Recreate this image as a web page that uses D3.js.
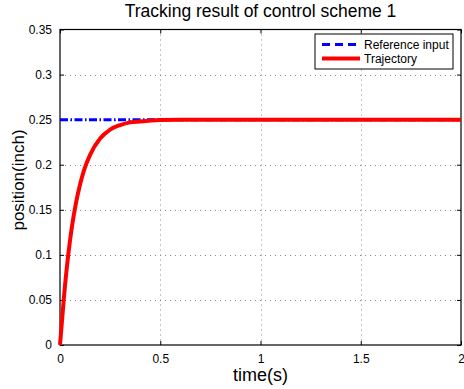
<!DOCTYPE html>
<html>
<head>
<meta charset="utf-8">
<script src="https://cdn.jsdelivr.net/npm/d3@7"></script>
<style>
  body { margin: 0; background: #fff; }
  text { font-family: "Liberation Sans", Arial, sans-serif; fill: #000; }
</style>
</head>
<body>
<script>
var width = 464,
    height = 389,
    margin = {top: 29.5, right: 3, bottom: 44, left: 60};

// data
var times = [0, 0.02, 0.04, 0.06, 0.08, 0.1, 0.12, 0.15, 0.2, 0.25, 0.3, 0.35, 0.4, 0.5, 0.6, 0.8, 1.0, 1.5, 2.0];
var trajectory = [0, 0.054, 0.098, 0.132, 0.158, 0.178, 0.194, 0.211, 0.229, 0.239, 0.244, 0.247, 0.248, 0.2495, 0.25, 0.25, 0.25, 0.25, 0.25];
var refTimes = [0, 2];
var reference = [0.25, 0.25];
var xTicks = [0, 0.5, 1, 1.5, 2];
var yTicks = [0, 0.05, 0.1, 0.15, 0.2, 0.25, 0.3, 0.35];
var legendLabels = ["Reference input", "Trajectory"];

var x = d3.scaleLinear().domain([0, 2]).range([margin.left, width - margin.right]);
var y = d3.scaleLinear().domain([0, 0.35]).range([height - margin.bottom, margin.top]);

var svg = d3.select("body").append("svg")
    .attr("width", width)
    .attr("height", height);

// grid
svg.append("g").selectAll("line")
    .data(xTicks.slice(1, -1))
    .enter().append("line")
    .attr("x1", function(d) { return Math.round(x(d)) + 0.5; })
    .attr("x2", function(d) { return Math.round(x(d)) + 0.5; })
    .attr("y1", y(0.35)).attr("y2", y(0))
    .style("stroke", "#888").style("stroke-dasharray", "1,4");

svg.append("g").selectAll("line")
    .data(yTicks.slice(1, -1))
    .enter().append("line")
    .attr("y1", function(d) { return Math.round(y(d)) + 0.5; })
    .attr("y2", function(d) { return Math.round(y(d)) + 0.5; })
    .attr("x1", x(0)).attr("x2", x(2))
    .style("stroke", "#888").style("stroke-dasharray", "1,4");

// axes
var xAxis = d3.axisBottom(x).tickValues(xTicks).tickSizeInner(-4).tickSizeOuter(0).tickPadding(9)
    .tickFormat(d3.format("~g"));
var yAxis = d3.axisLeft(y).tickValues(yTicks).tickSizeInner(-4).tickSizeOuter(0).tickPadding(8)
    .tickFormat(d3.format("~g"));

function styleAxis(g) {
  g.select(".domain").remove();
  g.selectAll("line").style("stroke", "#000");
  g.selectAll("text").style("font-size", "12px").style("font-family", "Liberation Sans, Arial, sans-serif");
}

svg.append("g").attr("transform", "translate(0," + y(0) + ")").call(xAxis).call(styleAxis);
svg.append("g").attr("transform", "translate(" + x(0) + ",0)").call(yAxis).call(styleAxis);
svg.append("g").attr("transform", "translate(0," + y(0.35) + ")")
    .call(d3.axisTop(x).tickValues(xTicks).tickSizeInner(-4).tickSizeOuter(0).tickFormat(""))
    .call(styleAxis);
svg.append("g").attr("transform", "translate(" + x(2) + ",0)")
    .call(d3.axisRight(y).tickValues(yTicks).tickSizeInner(-4).tickSizeOuter(0).tickFormat(""))
    .call(styleAxis);

// box
svg.append("rect")
    .attr("x", x(0)).attr("y", y(0.35))
    .attr("width", x(2) - x(0)).attr("height", y(0) - y(0.35))
    .style("fill", "none").style("stroke", "#000").style("stroke-width", 1.2);

// lines
var refLine = d3.line()
    .x(function(d, i) { return x(refTimes[i]); })
    .y(function(d) { return y(d); });

var trajLine = d3.line()
    .curve(d3.curveMonotoneX)
    .x(function(d, i) { return x(times[i]); })
    .y(function(d) { return y(d); });

svg.append("path")
    .datum(reference)
    .attr("d", refLine)
    .style("fill", "none").style("stroke", "#0000ff")
    .style("stroke-width", 3).style("stroke-dasharray", "8,2.5,1.5,2.5");

svg.append("path")
    .datum(trajectory)
    .attr("d", trajLine)
    .style("fill", "none").style("stroke", "#ff0000")
    .style("stroke-width", 4).style("stroke-linejoin", "round");

// legend
var legend = svg.append("g").attr("transform", "translate(315,34)");
legend.append("rect")
    .attr("width", 138).attr("height", 35)
    .style("fill", "#fff").style("stroke", "#000").style("stroke-width", 1);

legend.selectAll(".item")
    .data(legendLabels)
    .enter().append("g")
    .attr("class", "item")
    .each(function(d, i) {
      var g = d3.select(this);
      var yy = 10.5 + i * 14;
      g.append("line")
          .attr("x1", 7).attr("x2", 45).attr("y1", yy).attr("y2", yy)
          .style("stroke", i === 0 ? "#0000ff" : "#ff0000")
          .style("stroke-width", i === 0 ? 3 : 4)
          .style("stroke-dasharray", i === 0 ? "8,5" : null);
      g.append("text")
          .attr("x", 49).attr("y", yy + 4.5)
          .style("font-size", "12px")
          .text(d);
    });

// title and labels
svg.append("text")
    .attr("x", (x(0) + x(2)) / 2).attr("y", 17)
    .attr("text-anchor", "middle")
    .style("font-size", "17.5px")
    .text("Tracking result of control scheme 1");

svg.append("text")
    .attr("x", (x(0) + x(2)) / 2).attr("y", 381)
    .attr("text-anchor", "middle")
    .style("font-size", "18px")
    .text("time(s)");

svg.append("text")
    .attr("transform", "translate(24,180)rotate(-90)")
    .attr("text-anchor", "middle")
    .style("font-size", "17px")
    .text("position(inch)");
</script>
</body>
</html>
